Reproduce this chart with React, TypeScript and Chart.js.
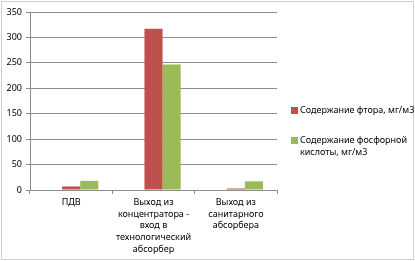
import React, { useEffect, useRef } from "react";
import { Chart, registerables } from "chart.js";

Chart.register(...registerables);

const categories: string[][] = [
  ["ПДВ"],
  ["Выход из", "концентратора -", "вход в", "технологический", "абсорбер"],
  ["Выход из", "санитарного", "абсорбера"],
];
// An empty first series occupies the leftmost slot of each group in the source chart
const emptySeries: (number | null)[] = [null, null, null];
const fluorine: number[] = [7, 317, 3];
const phosphoric: number[] = [18, 247, 17];
const seriesNames: string[] = ["Содержание фтора, мг/м3", "Содержание фосфорной кислоты, мг/м3"];
const yTicks: number[] = [0, 50, 100, 150, 200, 250, 300, 350];

const FONT = "'Noto Sans', sans-serif";
const GRID = "#8c8c8c";

export default function App() {
  const ref = useRef<HTMLCanvasElement>(null);
  useEffect(() => {
    if (!ref.current) return;
    const chart = new Chart(ref.current, {
      type: "bar",
      data: {
        labels: categories,
        datasets: [
          { label: "", data: emptySeries, backgroundColor: "rgba(0,0,0,0)" },
          { label: seriesNames[0], data: fluorine, backgroundColor: "#c0504d", borderWidth: 0 },
          { label: seriesNames[1], data: phosphoric, backgroundColor: "#9bbb59", borderWidth: 0 },
        ],
      },
      options: {
        animation: false,
        responsive: false,
        maintainAspectRatio: false,
        layout: { padding: { left: 0, top: 12, right: 138, bottom: 0 } },
        plugins: { legend: { display: false }, tooltip: { enabled: false } },
        datasets: { bar: { categoryPercentage: 0.66, barPercentage: 1 } },
        scales: {
          x: {
            grid: { drawOnChartArea: false, drawTicks: true, tickLength: 4, color: GRID, offset: true },
            border: { display: true, color: GRID },
            ticks: { font: { family: FONT, size: 9, lineHeight: 1.33 }, color: "#000", padding: 2, maxRotation: 0, autoSkip: false },
            afterFit: (s: any) => { s.height = 71; },
          },
          y: {
            min: 0,
            max: 350,
            afterBuildTicks: (s: any) => { s.ticks = yTicks.map((v) => ({ value: v })); },
            grid: { color: GRID, tickLength: 4 },
            border: { display: true, color: GRID },
            ticks: { font: { family: FONT, size: 9 }, color: "#000", padding: 4 },
            afterFit: (s: any) => { s.width = 30; },
          },
        },
      },
    });
    return () => chart.destroy();
  }, []);

  const legendText: React.CSSProperties = { fontFamily: FONT, fontSize: 9, lineHeight: "12px", color: "#000" };
  return (
    <div style={{ position: "fixed", left: 0, top: 0, width: 415, height: 261, background: "#fff" }}>
      <div style={{ position: "absolute", left: 1, top: 1, width: 411, height: 257, border: "1px solid #d0d0d0" }} />
      <canvas ref={ref} width={415} height={261} style={{ position: "absolute", left: 0, top: 0 }} />
      <div style={{ position: "absolute", left: 291, top: 104, display: "flex", alignItems: "flex-start" }}>
        <div style={{ width: 7, height: 7, background: "#c0504d", marginTop: 3, marginRight: 2 }} />
        <div style={{ ...legendText, whiteSpace: "nowrap" }}>{seriesNames[0]}</div>
      </div>
      <div style={{ position: "absolute", left: 291, top: 134, display: "flex", alignItems: "flex-start" }}>
        <div style={{ width: 7, height: 7, background: "#9bbb59", marginTop: 3, marginRight: 2 }} />
        <div style={{ ...legendText, width: 110 }}>{seriesNames[1]}</div>
      </div>
    </div>
  );
}
